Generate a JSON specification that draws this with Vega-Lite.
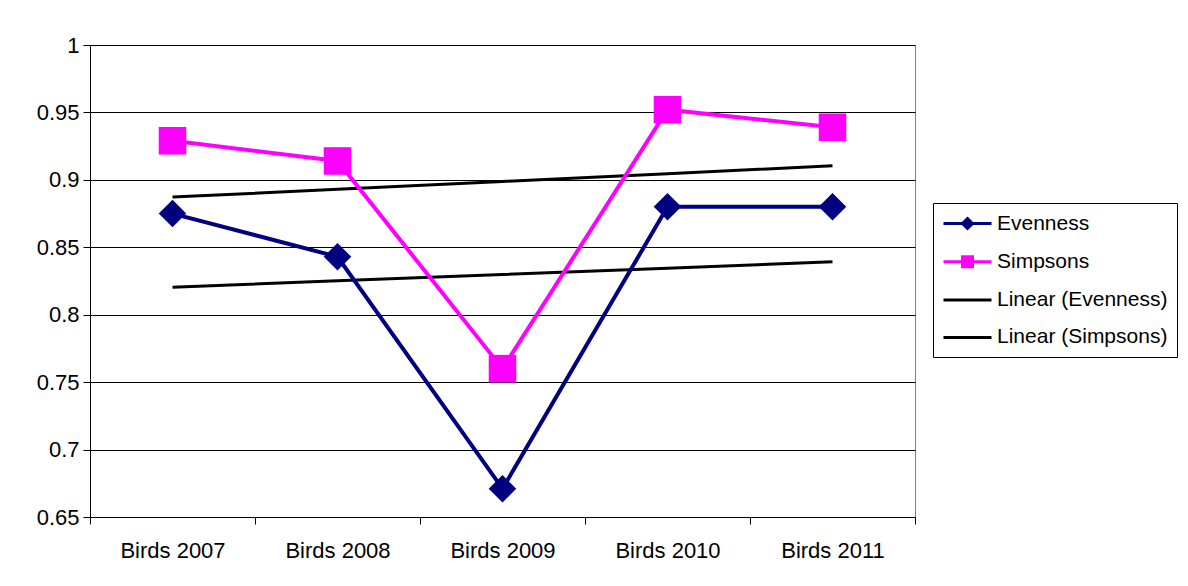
{
  "$schema": "https://vega.github.io/schema/vega-lite/v6.json",
  "width": 825,
  "height": 472,
  "autosize": {"type": "none"},
  "padding": {"left": 90, "top": 45, "right": 273, "bottom": 69},
  "background": "white",
  "config": {
    "font": "Liberation Sans",
    "view": {"stroke": "#808080", "strokeWidth": 1},
    "legend": {
      "title": null,
      "orient": "none",
      "legendX": 843,
      "legendY": 158,
      "padding": 9,
      "fillColor": "white",
      "strokeColor": "black",
      "labelFont": "Liberation Sans",
      "labelFontSize": 21,
      "labelColor": "black",
      "labelLimit": 400,
      "labelOffset": 18,
      "symbolSize": 400,
      "symbolOffset": 14,
      "symbolStrokeWidth": 3,
      "symbolOpacity": 1,
      "rowPadding": 15.3
    }
  },
  "data": {
    "values": [
      {"year": "Birds 2007", "series": "Evenness", "value": 0.875},
      {"year": "Birds 2008", "series": "Evenness", "value": 0.843},
      {"year": "Birds 2009", "series": "Evenness", "value": 0.671},
      {"year": "Birds 2010", "series": "Evenness", "value": 0.880},
      {"year": "Birds 2011", "series": "Evenness", "value": 0.880},
      {"year": "Birds 2007", "series": "Simpsons", "value": 0.929},
      {"year": "Birds 2008", "series": "Simpsons", "value": 0.914},
      {"year": "Birds 2009", "series": "Simpsons", "value": 0.760},
      {"year": "Birds 2010", "series": "Simpsons", "value": 0.952},
      {"year": "Birds 2011", "series": "Simpsons", "value": 0.939},
      {"year": "Birds 2007", "series": "Linear (Evenness)", "value": 0.8204},
      {"year": "Birds 2008", "series": "Linear (Evenness)", "value": 0.8251},
      {"year": "Birds 2009", "series": "Linear (Evenness)", "value": 0.8298},
      {"year": "Birds 2010", "series": "Linear (Evenness)", "value": 0.8345},
      {"year": "Birds 2011", "series": "Linear (Evenness)", "value": 0.8392},
      {"year": "Birds 2007", "series": "Linear (Simpsons)", "value": 0.8872},
      {"year": "Birds 2008", "series": "Linear (Simpsons)", "value": 0.8930},
      {"year": "Birds 2009", "series": "Linear (Simpsons)", "value": 0.8988},
      {"year": "Birds 2010", "series": "Linear (Simpsons)", "value": 0.9046},
      {"year": "Birds 2011", "series": "Linear (Simpsons)", "value": 0.9104}
    ]
  },
  "encoding": {
    "x": {
      "field": "year",
      "type": "nominal",
      "sort": null,
      "scale": {"type": "band", "paddingInner": 0, "paddingOuter": 0},
      "axis": {
        "title": null,
        "labelAngle": 0,
        "labelFontSize": 22,
        "labelColor": "black",
        "labelPadding": 16,
        "domainColor": "black",
        "domainWidth": 1,
        "tickColor": "black",
        "tickWidth": 1,
        "tickSize": 7,
        "tickBand": "extent",
        "grid": false
      }
    },
    "y": {
      "field": "value",
      "type": "quantitative",
      "scale": {"domain": [0.65, 1], "nice": false, "zero": false},
      "axis": {
        "title": null,
        "values": [0.65, 0.7, 0.75, 0.8, 0.85, 0.9, 0.95, 1],
        "format": ".2~f",
        "labelFontSize": 22,
        "labelColor": "black",
        "labelPadding": 4,
        "domainColor": "black",
        "domainWidth": 1,
        "tickColor": "black",
        "tickWidth": 1,
        "tickSize": 7,
        "grid": true,
        "gridColor": "black",
        "gridWidth": 1,
        "gridOpacity": 1
      }
    },
    "color": {
      "field": "series",
      "type": "nominal",
      "scale": {
        "domain": ["Evenness", "Simpsons", "Linear (Evenness)", "Linear (Simpsons)"],
        "range": ["#000080", "#FF00FF", "#000000", "#000000"]
      }
    }
  },
  "layer": [
    {
      "transform": [{"filter": "false"}],
      "mark": {"type": "point", "filled": true, "opacity": 1},
      "encoding": {
        "shape": {
          "field": "series",
          "type": "nominal",
          "scale": {
            "domain": ["Evenness", "Simpsons", "Linear (Evenness)", "Linear (Simpsons)"],
            "range": [
              "M-2.4,0H2.4M-0.5,0L0,-0.5L0.5,0L0,0.5Z",
              "M-2.4,0H2.4M-0.5,-0.5H0.5V0.5H-0.5Z",
              "M-2.4,0H2.4",
              "M-2.4,0H2.4"
            ]
          }
        },
        "stroke": {
          "field": "series",
          "type": "nominal",
          "scale": {
            "domain": ["Evenness", "Simpsons", "Linear (Evenness)", "Linear (Simpsons)"],
            "range": ["#000080", "#FF00FF", "#000000", "#000000"]
          }
        }
      }
    },
    {
      "transform": [{"filter": "indexof(datum.series, 'Linear') === 0"}],
      "mark": {"type": "line", "strokeWidth": 3}
    },
    {
      "transform": [{"filter": "indexof(datum.series, 'Linear') < 0"}],
      "mark": {"type": "line", "strokeWidth": 4}
    },
    {
      "transform": [{"filter": "datum.series === 'Evenness'"}],
      "mark": {"type": "point", "shape": "diamond", "filled": true, "size": 760, "opacity": 1}
    },
    {
      "transform": [{"filter": "datum.series === 'Simpsons'"}],
      "mark": {"type": "point", "shape": "square", "filled": true, "size": 760, "opacity": 1}
    }
  ]
}
